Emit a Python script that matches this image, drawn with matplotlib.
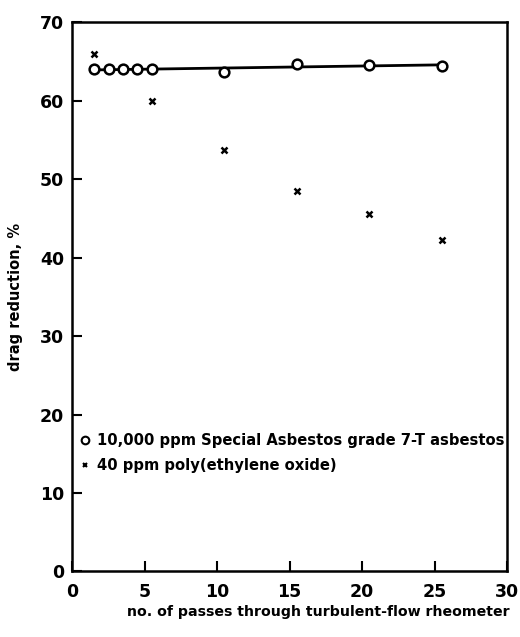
import numpy as np
import matplotlib
matplotlib.use("Agg")
import matplotlib.pyplot as plt

plt.rcParams['font.family'] = ['DejaVu Sans']
plt.rcParams['font.weight'] = 'bold'

# Drag reduction vs number of passes
asbestos_passes = [1.5, 2.5, 3.5, 4.5, 5.5, 10.5, 15.5, 20.5, 25.5]
asbestos_dr = [64.0, 64.0, 64.0, 64.0, 64.0, 63.7, 64.7, 64.6, 64.4]

peo_passes = [1.5, 5.5, 10.5, 15.5, 20.5, 25.5]
peo_dr = [66.0, 60.0, 53.7, 48.5, 45.5, 42.3]

x_ticks = [0, 5, 10, 15, 20, 25, 30]
y_ticks = [0, 10, 20, 30, 40, 50, 60, 70]

fig = plt.figure(figsize=(5.2, 6.37), dpi=100)
ax = fig.add_axes([0.139, 0.103, 0.836, 0.862])

# straight-line fit through the asbestos points
coef = np.polyfit(asbestos_passes, asbestos_dr, 1)
xf = np.array([asbestos_passes[0], asbestos_passes[-1]])
ax.plot(xf, np.polyval(coef, xf), color='black', lw=2.0, zorder=2)

ax.plot(asbestos_passes, asbestos_dr, linestyle='none', marker='o', ms=7,
        mfc='white', mec='black', mew=1.8, zorder=3)
ax.plot(peo_passes, peo_dr, linestyle='none', marker='x', ms=4, mew=1.8,
        color='black', zorder=3)

ax.set_xlim(0, 30)
ax.set_ylim(0, 70)
ax.set_xticks(x_ticks)
ax.set_yticks(y_ticks)
ax.tick_params(direction='in', length=7, width=1.5, labelsize=12.5,
               top=False, right=False, pad=6)
ax.tick_params(axis='x', pad=8)
for lab in ax.get_xticklabels() + ax.get_yticklabels():
    lab.set_fontweight('bold')
for s in ax.spines.values():
    s.set_linewidth(1.8)

ax.set_xlabel('no. of passes through turbulent-flow rheometer',
              fontsize=10.2, fontweight='bold')
ax.xaxis.set_label_coords(0.565, -0.061)
ax.set_ylabel('drag reduction, %', fontsize=10.5, fontweight='bold', labelpad=12)

# legend entries written inside the axes
ax.plot([0.9], [16.7], linestyle='none', marker='o', ms=5.5, mfc='white',
        mec='black', mew=1.5, clip_on=False)
ax.text(1.7, 16.7, '10,000 ppm Special Asbestos grade 7-T asbestos',
        fontsize=10.6, fontweight='bold', va='center', ha='left')
ax.plot([0.9], [13.5], linestyle='none', marker='x', ms=3.5, mew=1.5,
        color='black', clip_on=False)
ax.text(1.7, 13.5, '40 ppm poly(ethylene oxide)',
        fontsize=10.6, fontweight='bold', va='center', ha='left')

fig.savefig('out.png', dpi=100)
